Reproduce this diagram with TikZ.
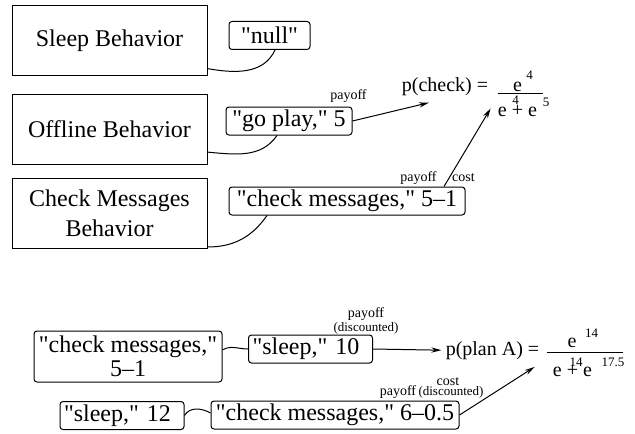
\documentclass[tikz,border=0pt]{standalone}
\usepackage{fontspec}
\setmainfont[Ligatures=TeXOff]{Liberation Serif}
\usetikzlibrary{positioning,calc,arrows.meta}
\tikzset{
  behavior box/.style={
    draw,
    line width=0.5pt,
    minimum width=97.5pt,
    minimum height=35pt,
    align=center,
    font=\fontsize{12}{15}\selectfont,
  },
  choice box/.style={
    draw,
    line width=0.5pt,
    rounded corners=1.5pt,
    minimum height=14pt,
    inner xsep=2pt,
    inner ysep=1pt,
    font=\fontsize{12}{12}\selectfont,
  },
  formula/.style={
    font=\fontsize{10}{12}\selectfont,
    inner sep=2pt,
  },
  exponent/.style={
    font=\fontsize{6.5}{7}\selectfont,
    inner sep=0pt,
  },
  annotation/.style={
    font=\fontsize{7}{7}\selectfont,
    inner sep=0pt,
  },
  link/.style={line width=0.5pt},
  flow/.style={line width=0.5pt, -{Stealth[length=5pt,width=2.6pt]}},
}

\begin{document}
\begin{tikzpicture}[x=0.5pt,y=0.5pt]
  \useasboundingbox (0,0) rectangle (635,-433);

  % behaviors and what they propose
  \node [behavior box] (sleep) at (109.5,-40.5) {Sleep Behavior};
  \node [behavior box] (offline) at (109.5,-129.5) {Offline Behavior};
  \node [behavior box] (check) at (109.5,-213.5) {Check Messages\\Behavior};

  \node [choice box, minimum width=40.5pt] (null) at (269.5,-35.5) {"null"};
  \node [choice box, minimum width=63pt] (goplay) at (289,-121) {"go play," 5};
  \node [choice box, minimum width=118pt] (checkmsg) at (347,-201) {"check messages," 5–1};

  \draw [link] (sleep.-16) to [out=-10, in=-115] ($(null.south)+(5.5,0)$);
  \draw [link] (offline.-13) to [out=-5, in=-125] ($(goplay.south)+(-12,0)$);
  \draw [link] ($(check.south east)+(0,2)$) to [out=0, in=-125] ($(checkmsg.south)+(-80,0)$);

  % p(check)
  \node [formula, anchor=base] (pcheck) at (445,-91) {p(check) =};
  \node [formula, anchor=base] (num1) at (517.5,-91.5) {e};
  \node [formula, anchor=base] (den1) at (517.5,-116) {e + e};
  \draw [link] (498,-93.5) -- (543,-93.5);
  \node [exponent] (num1exp) at (529.5,-75) {4};
  \node [exponent] (den1expA) at (515.5,-100) {4};
  \node [exponent] (den1expB) at (546,-102) {5};

  \draw [flow] (goplay.east) -- ($(pcheck.south)+(-16,-3)$);
  \node [annotation, anchor=south] (payoffA) at ($(goplay.north east)+(-4,4)$) {payoff};

  \draw [flow] ($(checkmsg.north)+(97,0)$) -- ($(den1.west)+(-3,2)$);
  \node [annotation, anchor=base] (payoffB) at ($(checkmsg.north east)+(-47,5)$) {payoff};
  \node [annotation, anchor=base] (costB) at ($(checkmsg.north east)+(-2,5)$) {cost};

  % plans
  \node [choice box, minimum width=94pt, minimum height=25.5pt, align=center] (cm51) at (128,-356.5) {"check messages,"\\5–1};
  \node [choice box, text width=58pt, align=left] (sleep10) at (310.5,-349) {"sleep," 10};
  \node [choice box, text width=58pt, align=left] (sleep12) at (122,-415.5) {"sleep," 12};
  \node [choice box, minimum width=124pt] (cm6) at (335,-415) {"check messages," 6–0.5};

  \draw [link] (cm51.4) to [out=30, in=180] (sleep10.west);
  \draw [link] (sleep12.east) to [out=60, in=150] ($(cm6.west)+(0,2)$);

  % p(plan A)
  \node [formula, anchor=base] (pplan) at (492.5,-355) {p(plan A) =};
  \node [formula, anchor=base] (num2) at (572,-347.5) {e};
  \node [formula, anchor=base] (den2) at (572.5,-376.5) {e + e};
  \draw [link] (547,-352.7) -- (623,-352.7);
  \node [exponent] (num2exp) at (591.5,-333) {14};
  \node [exponent] (den2expA) at (576,-362) {14};
  \node [exponent] (den2expB) at (613,-362) {17.5};

  \draw [flow] (sleep10.east) -- (pplan.west);
  \node [annotation, align=center] (payoffC) at (366,-321) {payoff\\{\fontsize{6.5}{7}\selectfont(discounted)}};

  \draw [flow] (cm6.east) -- ($(den2.west)+(-14,4)$);
  \node [annotation, anchor=base] (costD) at (448,-385) {cost};
  \node [annotation, anchor=base] (payoffD) at (398,-395) {payoff};
  \node [annotation, anchor=base, font=\fontsize{6.5}{7}\selectfont] (discD) at (451,-395) {(discounted)};
\end{tikzpicture}
\end{document}
